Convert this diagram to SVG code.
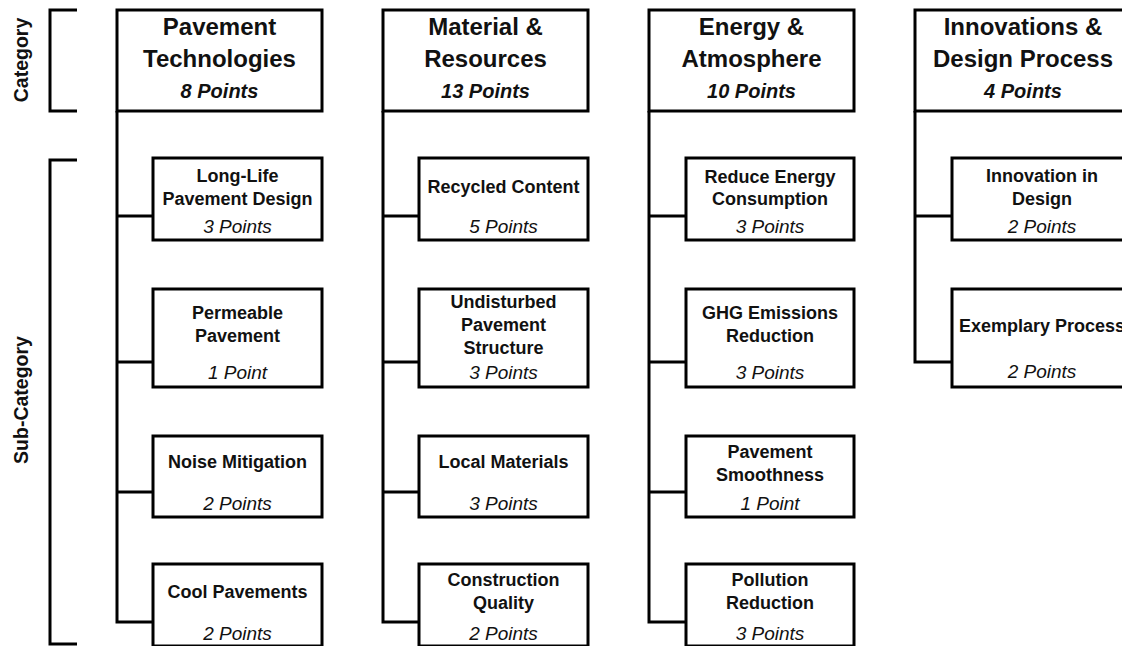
<svg xmlns="http://www.w3.org/2000/svg" width="1122" height="646" viewBox="0 0 1122 646">
<style>
.box{fill:#fff;stroke:#000;stroke-width:3}
.ln{fill:none;stroke:#000;stroke-width:3}
text{font-family:"Liberation Sans",Arial,sans-serif;fill:#111;text-anchor:middle}
.ct{font-size:24px;font-weight:bold}
.cp{font-size:20px;font-weight:bold;font-style:italic}
.st{font-size:18px;font-weight:bold}
.sp{font-size:19px;font-style:italic}
.lab{font-size:19.5px;font-weight:bold}
</style>
<rect width="1122" height="646" fill="#fff"/>
<g id="labels">
<path class="ln" d="M77 10 H50 V111 H77"/>
<path class="ln" d="M77 160 H50 V644 H77"/>
<text class="lab" transform="translate(28,60) rotate(-90)">Category</text>
<text class="lab" transform="translate(28,400) rotate(-90)">Sub-Category</text>
</g>
<g id="connectors">
<path class="ln" d="M117 111 V622 H153 M117 216 H153 M117 362 H153 M117 492 H153"/>
<path class="ln" d="M383 111 V622 H419 M383 216 H419 M383 362 H419 M383 492 H419"/>
<path class="ln" d="M649 111 V622 H686 M649 216 H686 M649 362 H686 M649 492 H686"/>
<path class="ln" d="M915 111 V362 H952 M915 216 H952"/>
</g>
<g id="cat-pavement">
<rect class="box" x="117" y="10" width="205" height="101"/>
<text class="ct" x="219.5" y="35">Pavement</text>
<text class="ct" x="219.5" y="67">Technologies</text>
<text class="cp" x="219.5" y="98">8 Points</text>
</g>
<g id="cat-material">
<rect class="box" x="383" y="10" width="205" height="101"/>
<text class="ct" x="485.5" y="35">Material &amp;</text>
<text class="ct" x="485.5" y="67">Resources</text>
<text class="cp" x="485.5" y="98">13 Points</text>
</g>
<g id="cat-energy">
<rect class="box" x="649" y="10" width="205" height="101"/>
<text class="ct" x="751.5" y="35">Energy &amp;</text>
<text class="ct" x="751.5" y="67">Atmosphere</text>
<text class="cp" x="751.5" y="98">10 Points</text>
</g>
<g id="cat-innovation">
<rect class="box" x="915" y="10" width="216" height="101"/>
<text class="ct" x="1023" y="35">Innovations &amp;</text>
<text class="ct" x="1023" y="67">Design Process</text>
<text class="cp" x="1023" y="98">4 Points</text>
</g>
<g id="sub-longlife">
<rect class="box" x="153" y="158" width="169" height="82"/>
<text class="st" x="237.5" y="182">Long-Life</text>
<text class="st" x="237.5" y="205">Pavement Design</text>
<text class="sp" x="237.5" y="233">3 Points</text>
</g>
<g id="sub-permeable">
<rect class="box" x="153" y="289" width="169" height="98"/>
<text class="st" x="237.5" y="319">Permeable</text>
<text class="st" x="237.5" y="342">Pavement</text>
<text class="sp" x="237.5" y="379">1 Point</text>
</g>
<g id="sub-noise">
<rect class="box" x="153" y="436" width="169" height="81"/>
<text class="st" x="237.5" y="468">Noise Mitigation</text>
<text class="sp" x="237.5" y="510">2 Points</text>
</g>
<g id="sub-cool">
<rect class="box" x="153" y="564" width="169" height="82"/>
<text class="st" x="237.5" y="598">Cool Pavements</text>
<text class="sp" x="237.5" y="640">2 Points</text>
</g>
<g id="sub-recycled">
<rect class="box" x="419" y="158" width="169" height="82"/>
<text class="st" x="503.5" y="193">Recycled Content</text>
<text class="sp" x="503.5" y="233">5 Points</text>
</g>
<g id="sub-undisturbed">
<rect class="box" x="419" y="289" width="169" height="98"/>
<text class="st" x="503.5" y="308">Undisturbed</text>
<text class="st" x="503.5" y="331">Pavement</text>
<text class="st" x="503.5" y="354">Structure</text>
<text class="sp" x="503.5" y="379">3 Points</text>
</g>
<g id="sub-local">
<rect class="box" x="419" y="436" width="169" height="81"/>
<text class="st" x="503.5" y="468">Local Materials</text>
<text class="sp" x="503.5" y="510">3 Points</text>
</g>
<g id="sub-construction">
<rect class="box" x="419" y="564" width="169" height="82"/>
<text class="st" x="503.5" y="586">Construction</text>
<text class="st" x="503.5" y="609">Quality</text>
<text class="sp" x="503.5" y="640">2 Points</text>
</g>
<g id="sub-energy">
<rect class="box" x="686" y="158" width="168" height="82"/>
<text class="st" x="770" y="183">Reduce Energy</text>
<text class="st" x="770" y="205">Consumption</text>
<text class="sp" x="770" y="233">3 Points</text>
</g>
<g id="sub-ghg">
<rect class="box" x="686" y="289" width="168" height="98"/>
<text class="st" x="770" y="319">GHG Emissions</text>
<text class="st" x="770" y="342">Reduction</text>
<text class="sp" x="770" y="379">3 Points</text>
</g>
<g id="sub-smoothness">
<rect class="box" x="686" y="436" width="168" height="81"/>
<text class="st" x="770" y="458">Pavement</text>
<text class="st" x="770" y="481">Smoothness</text>
<text class="sp" x="770" y="510">1 Point</text>
</g>
<g id="sub-pollution">
<rect class="box" x="686" y="564" width="168" height="82"/>
<text class="st" x="770" y="586">Pollution</text>
<text class="st" x="770" y="609">Reduction</text>
<text class="sp" x="770" y="640">3 Points</text>
</g>
<g id="sub-innovation">
<rect class="box" x="952" y="158" width="180" height="82"/>
<text class="st" x="1042" y="182">Innovation in</text>
<text class="st" x="1042" y="205">Design</text>
<text class="sp" x="1042" y="233">2 Points</text>
</g>
<g id="sub-exemplary">
<rect class="box" x="952" y="289" width="180" height="98"/>
<text class="st" x="1042" y="332">Exemplary Process</text>
<text class="sp" x="1042" y="378">2 Points</text>
</g>
</svg>
